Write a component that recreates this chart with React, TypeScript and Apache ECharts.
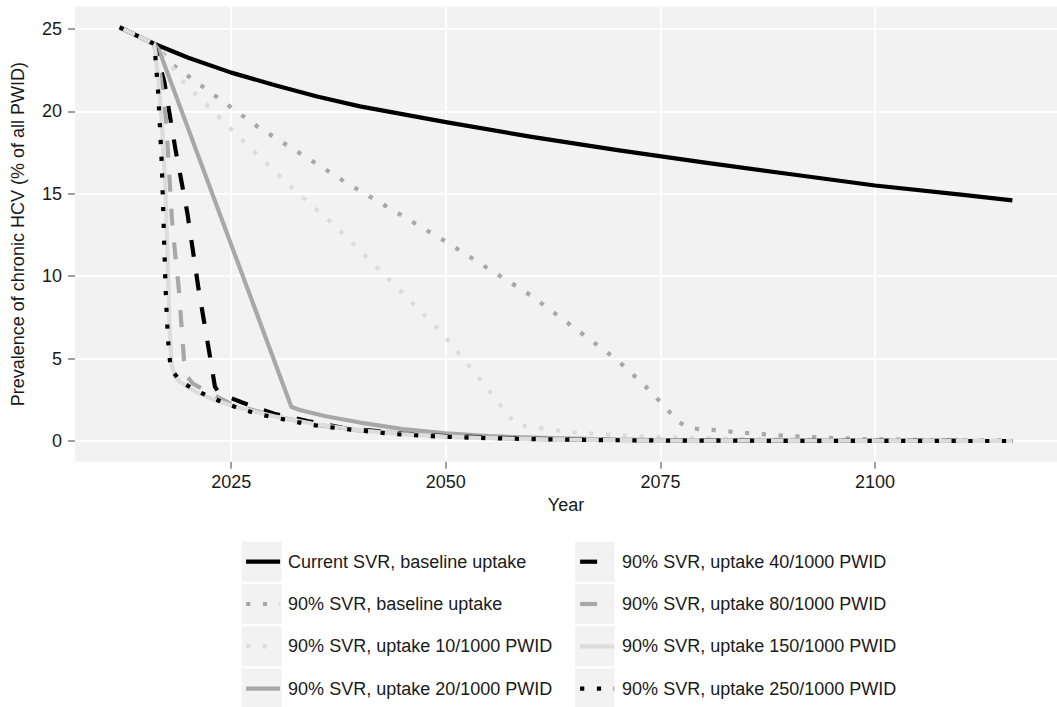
import React, { useEffect, useRef } from "react";
import * as echarts from "echarts";

type Pt = [number, number];

const seriesNames = [
  "Current SVR, baseline uptake",
  "90% SVR, baseline uptake",
  "90% SVR, uptake 10/1000 PWID",
  "90% SVR, uptake 20/1000 PWID",
  "90% SVR, uptake 40/1000 PWID",
  "90% SVR, uptake 80/1000 PWID",
  "90% SVR, uptake 150/1000 PWID",
  "90% SVR, uptake 250/1000 PWID",
];

const xTicks = [2025, 2050, 2075, 2100];
const yTicks = [0, 5, 10, 15, 20, 25];

const currentSvrBaseline: Pt[] = [
  [2012, 25.1], [2014, 24.6], [2016, 24.1], [2020, 23.25], [2025, 22.35], [2030, 21.6],
  [2035, 20.9], [2040, 20.3], [2050, 19.35], [2060, 18.45], [2070, 17.65], [2080, 16.9],
  [2090, 16.2], [2100, 15.5], [2110, 14.95], [2116, 14.6],
];

const svr90Baseline: Pt[] = [
  [2012, 25.1], [2014, 24.6], [2016, 24.1], [2018.5, 22.7], [2028, 19.1], [2038, 15.8],
  [2050, 12.1], [2060, 8.8], [2070, 4.9], [2073, 3.45], [2075.5, 2.1], [2077, 1.2],
  [2078.3, 0.78], [2080, 0.7], [2082, 0.65], [2084, 0.52], [2090, 0.3], [2095, 0.18],
  [2100, 0.1], [2108, 0.05], [2116, 0.03],
];

const uptake10: Pt[] = [
  [2012, 25.1], [2014, 24.6], [2016, 24.1], [2019.6, 21.7], [2026, 18.4], [2032.4, 15.2],
  [2037, 13.1], [2043, 10.0], [2049.5, 6.6], [2052, 5.0], [2054.5, 3.4], [2056, 2.45],
  [2057, 1.7], [2058.3, 0.97], [2060, 0.84], [2062, 0.71], [2064, 0.57], [2066, 0.5],
  [2068, 0.42], [2070, 0.36], [2074, 0.26], [2080, 0.17], [2090, 0.1], [2100, 0.05], [2116, 0.02],
];

const uptake20: Pt[] = [
  [2012, 25.1], [2014, 24.6], [2016, 24.1], [2016.6, 23.7], [2032, 2.08], [2033, 1.88],
  [2036, 1.5], [2040, 1.12], [2045, 0.72], [2050, 0.46], [2055, 0.3], [2060, 0.2],
  [2070, 0.09], [2080, 0.04], [2100, 0.01], [2116, 0],
];

const uptake40: Pt[] = [
  [2012, 25.1], [2014, 24.6], [2016, 24.1], [2017.2, 21.8], [2018.5, 17.7], [2019.9, 13.8],
  [2021.2, 9.2], [2022.6, 4.9], [2023.1, 3.3], [2023.6, 2.9], [2026.2, 2.35], [2030, 1.65],
  [2034, 1.2], [2038, 0.8], [2045, 0.45], [2050, 0.3], [2060, 0.13], [2070, 0.06],
  [2090, 0.01], [2116, 0],
];

const uptake80: Pt[] = [
  [2012, 25.1], [2014, 24.6], [2016, 24.1], [2016.8, 22], [2017.4, 19.5], [2017.8, 16],
  [2018.1, 13.4], [2018.5, 11.2], [2018.9, 9.2], [2019.5, 4.9], [2019.9, 3.9], [2020.5, 3.5],
  [2022, 3.05], [2025, 2.25], [2030, 1.52], [2035, 0.98], [2040, 0.63], [2050, 0.28],
  [2060, 0.12], [2070, 0.05], [2090, 0.01], [2116, 0],
];

const uptake150: Pt[] = [
  [2012, 25.1], [2014, 24.6], [2016, 24.1], [2016.5, 22], [2016.9, 19.5], [2017.3, 15.8],
  [2017.65, 9.8], [2017.85, 6.5], [2018.05, 4.6], [2018.5, 3.9], [2019.1, 3.55], [2021, 2.95],
  [2023, 2.5], [2025, 2.15], [2028, 1.75], [2030, 1.5], [2035, 1.0], [2040, 0.65],
  [2045, 0.42], [2050, 0.27], [2055, 0.17], [2060, 0.11], [2070, 0.05], [2080, 0.02], [2116, 0],
];

const uptake250: Pt[] = [
  [2012, 25.1], [2014, 24.6], [2016, 24.1], [2016.2, 23.1], [2016.5, 21], [2016.7, 19],
  [2016.9, 16.9], [2017.05, 14.5], [2017.2, 11.8], [2017.4, 8.6], [2017.6, 6.5], [2017.75, 5.3],
  [2018, 4.35], [2019.1, 3.6], [2020.8, 3.1], [2022.8, 2.6], [2024.5, 2.25], [2026.4, 1.9],
  [2028.3, 1.62], [2030.1, 1.42], [2032.2, 1.2], [2034.1, 1.0], [2036, 0.86], [2038, 0.75],
  [2040, 0.63], [2044, 0.42], [2048, 0.3], [2052, 0.22], [2056, 0.16], [2060, 0.12],
  [2067, 0.06], [2075, 0.03], [2090, 0.01], [2116, 0],
];

const seriesData: Pt[][] = [
  currentSvrBaseline, svr90Baseline, uptake10, uptake20, uptake40, uptake80, uptake150, uptake250,
];

const BLACK = "#000000";
const MID = "#a8a8a8";
const LIGHT = "#dcdcdc";
const LW = 4.2;
const DOT = [4.2, 12.6];
const DASH = [17, 17];

const styles: { color: string; type: any }[] = [
  { color: BLACK, type: "solid" },
  { color: MID, type: DOT },
  { color: LIGHT, type: DOT },
  { color: MID, type: "solid" },
  { color: BLACK, type: DASH },
  { color: MID, type: DASH },
  { color: LIGHT, type: "solid" },
  { color: BLACK, type: DOT },
];

const FONT = "'Liberation Sans', Arial, Helvetica, sans-serif";
const TEXT = "#1a1a1a";
const PANEL = "#f2f2f2";

export default function App() {
  const ref = useRef<HTMLDivElement>(null);
  useEffect(() => {
    if (!ref.current) return;
    const chart = echarts.init(ref.current, undefined, { renderer: "svg" });

    const legendTop = 541.7;
    const pitch = 42.3;
    const legendItem = (i: number) => ({
      name: seriesNames[i],
      lineStyle: { color: styles[i].color, width: LW, type: styles[i].type, opacity: 1 },
      itemStyle: { color: "rgba(0,0,0,0)", borderWidth: 0, opacity: 0 },
    });
    const keyRects: any[] = [];
    for (let r = 0; r < 4; r++) {
      keyRects.push({
        type: "rect",
        shape: { x: 241.7, y: legendTop + r * pitch, width: 40, height: 40 },
        style: { fill: PANEL },
        silent: true,
        z: 0,
      });
      keyRects.push({
        type: "rect",
        shape: { x: 575, y: legendTop + r * pitch, width: 39.5, height: 40 },
        style: { fill: PANEL },
        silent: true,
        z: 0,
      });
    }

    const legendCommon = {
      orient: "vertical",
      top: legendTop + 4,
      padding: 0,
      itemWidth: 34,
      itemHeight: 40,
      itemGap: pitch - 32,
      selectedMode: false,
      textStyle: { fontSize: 18, color: TEXT, fontFamily: FONT, padding: [0, 0, 0, 3] },
    };

    chart.setOption({
      animation: false,
      backgroundColor: "#ffffff",
      textStyle: { fontFamily: FONT },
      grid: {
        left: 75,
        top: 6.6,
        width: 991.2,
        height: 455.1,
        show: true,
        backgroundColor: PANEL,
        borderWidth: 0,
        containLabel: false,
      },
      xAxis: {
        type: "value",
        min: 2006.8,
        max: 2121.2,
        name: "Year",
        nameLocation: "middle",
        nameGap: 34,
        nameTextStyle: { fontSize: 18, color: TEXT, fontFamily: FONT },
        axisLine: { show: false, onZero: false },
        axisTick: {
          show: true,
          length: 7,
          lineStyle: { color: "#808080", width: 1.5 },
          customValues: xTicks,
        },
        axisLabel: {
          fontSize: 18,
          color: TEXT,
          fontFamily: FONT,
          margin: 11,
          customValues: xTicks,
          formatter: (v: number) => String(v),
        },
        splitLine: { show: true, lineStyle: { color: "#ffffff", width: 2 } },
      },
      yAxis: {
        type: "value",
        min: -1.255,
        max: 26.355,
        name: "Prevalence of chronic HCV (% of all PWID)",
        nameLocation: "middle",
        nameGap: 48,
        nameTextStyle: { fontSize: 18, color: TEXT, fontFamily: FONT },
        axisLine: { show: false, onZero: false },
        axisTick: {
          show: true,
          length: 7,
          lineStyle: { color: "#808080", width: 1.5 },
          customValues: yTicks,
        },
        axisLabel: {
          fontSize: 18,
          color: TEXT,
          fontFamily: FONT,
          margin: 13,
          customValues: yTicks,
          formatter: (v: number) => String(v),
        },
        splitLine: { show: true, lineStyle: { color: "#ffffff", width: 2 } },
      },
      legend: [
        { ...legendCommon, left: 244, data: [0, 1, 2, 3].map(legendItem) },
        { ...legendCommon, left: 578, data: [4, 5, 6, 7].map(legendItem) },
      ],
      graphic: keyRects,
      series: seriesNames.map((name, i) => ({
        name,
        type: "line",
        data: seriesData[i],
        symbol: "none",
        showSymbol: false,
        smooth: false,
        lineStyle: { color: styles[i].color, width: LW, type: styles[i].type, cap: "butt", join: "round" },
        itemStyle: { color: styles[i].color },
        emphasis: { disabled: true },
      })),
    });
    return () => chart.dispose();
  }, []);
  return (
    <div
      ref={ref}
      style={{ position: "absolute", left: 0, top: 0, width: 1057, height: 707 }}
    />
  );
}
